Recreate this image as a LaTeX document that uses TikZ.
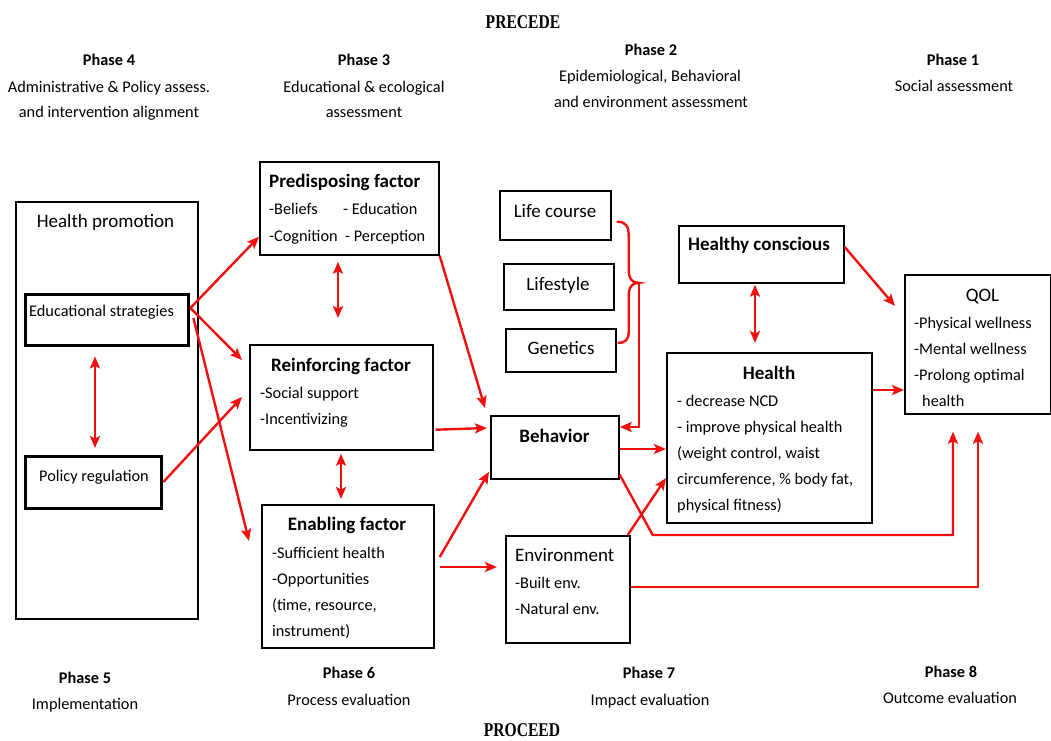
\documentclass[tikz,border=0pt]{standalone}
\usepackage{graphicx}
\usepackage{fontspec}
\setmainfont{Carlito}
\newfontfamily\modelfont{Liberation Serif}
\usetikzlibrary{arrows.meta,calc}
\definecolor{linkred}{RGB}{240,16,16}

\tikzset{
  box/.style={draw, line width=1.7pt, inner sep=0pt, anchor=north west},
  heavybox/.style={box, line width=3.4pt},
  body/.style={inner sep=0pt, anchor=base west, font=\fontsize{16.3}{19}\selectfont},
  boxhead/.style={inner sep=0pt, anchor=base, font=\fontsize{19}{22}\selectfont\bfseries},
  boxheadw/.style={boxhead, anchor=base west},
  boxtitle/.style={inner sep=0pt, anchor=base, font=\fontsize{19}{22}\selectfont},
  boxtitlew/.style={boxtitle, anchor=base west},
  phase/.style={inner sep=0pt, anchor=base, font=\fontsize{16.3}{19}\selectfont\bfseries},
  phasetext/.style={inner sep=0pt, anchor=base, font=\fontsize{16.3}{19}\selectfont},
  modelname/.style={inner sep=0pt, anchor=base, font=\modelfont\bfseries\fontsize{19.5}{22}\selectfont},
  >={Stealth[length=12pt,width=10pt,inset=2.5pt]},
  link/.style={draw=linkred, line width=2.4pt, ->},
  twoway/.style={draw=linkred, line width=2.4pt, <->},
  bracket/.style={draw=linkred, line width=2.4pt},
}

\begin{document}
\begin{tikzpicture}[x=1pt,y=-1pt]
\useasboundingbox (0,0) rectangle (1051,740);

% ---------- PRECEDE header and phases 1-4 ----------
\node[modelname] (precede) at (523,28) {\scalebox{0.8}[1]{PRECEDE}};

\node[phase]     (ph4)  at (109,65)  {Phase 4};
\node[phasetext] (ph4a) at (109,92)  {Administrative \& Policy assess.};
\node[phasetext] (ph4b) at (109,117) {and intervention alignment};

\node[phase]     (ph3)  at (364,65)  {Phase 3};
\node[phasetext] (ph3a) at (364,92)  {Educational \& ecological};
\node[phasetext] (ph3b) at (364,117) {assessment};

\node[phase]     (ph2)  at (651,55)  {Phase 2};
\node[phasetext] (ph2a) at (650,81)  {Epidemiological, Behavioral};
\node[phasetext] (ph2b) at (651,107) {and environment assessment};

\node[phase]     (ph1)  at (953,65)  {Phase 1};
\node[phasetext] (ph1a) at (954,91)  {Social assessment};

% ---------- PROCEED footer and phases 5-8 ----------
\node[phase]     (ph5)  at (85,683)  {Phase 5};
\node[phasetext] (ph5a) at (85,709)  {Implementation};
\node[phase]     (ph6)  at (349,678) {Phase 6};
\node[phasetext] (ph6a) at (349,705) {Process evaluation};
\node[phase]     (ph7)  at (649,678) {Phase 7};
\node[phasetext] (ph7a) at (650,705) {Impact evaluation};
\node[phase]     (ph8)  at (951,677) {Phase 8};
\node[phasetext] (ph8a) at (950,703) {Outcome evaluation};
\node[modelname] (proceed) at (522,736) {\scalebox{0.8}[1]{PROCEED}};

% ---------- health promotion column ----------
\node[box, minimum width=182pt, minimum height=417pt] (hp) at (15,201) {};
\node[boxtitle] (hpt) at (105.5,227) {Health promotion};
\node[heavybox, minimum width=163pt, minimum height=51pt] (edu) at (24,293) {};
\node[body] (edut) at (29,316) {Educational strategies};
\node[heavybox, minimum width=136pt, minimum height=52pt] (pol) at (24,455) {};
\node[body, anchor=base] (polt) at (94,481) {Policy regulation};

% ---------- factor boxes ----------
\node[box, minimum width=179pt, minimum height=93pt] (pre) at (259,161) {};
\node[boxheadw] (pret) at (269,187) {Predisposing factor};
\node[body] (pre1) at (269,214) {-Beliefs};
\node[body] (pre2) at (343,214) {- Education};
\node[body] (pre3) at (269,241) {-Cognition};
\node[body] (pre4) at (345,241) {- Perception};

\node[box, minimum width=183pt, minimum height=105pt] (rei) at (249,344) {};
\node[boxhead] (reit) at (341,371) {Reinforcing factor};
\node[body] (rei1) at (260,398) {-Social support};
\node[body] (rei2) at (260,424) {-Incentivizing};

\node[box, minimum width=172pt, minimum height=143pt] (ena) at (261,504) {};
\node[boxhead] (enat) at (347,530) {Enabling factor};
\foreach \t [count=\i] in {-Sufficient health,-Opportunities,{(time, resource,},instrument)}
  \node[body] (ena\i) at (272,{532+26*\i}) {\t};

% ---------- determinants ----------
\node[box, minimum width=111pt, minimum height=49pt] (life) at (499,190) {};
\node[boxtitle] (lifet) at (555,217) {Life course};
\node[box, minimum width=110pt, minimum height=46pt] (style) at (503,263) {};
\node[boxtitle] (stylet) at (558,290) {Lifestyle};
\node[box, minimum width=110pt, minimum height=43pt] (gen) at (505,328) {};
\node[boxtitle] (gent) at (561,354) {Genetics};

\node[box, minimum width=128pt, minimum height=63pt] (beh) at (490,415) {};
\node[boxhead] (beht) at (554.5,442) {Behavior};

\node[box, minimum width=124pt, minimum height=107pt] (env) at (505,535) {};
\node[boxtitlew] (envt) at (515,561) {Environment};
\node[body] (env1) at (515,588) {-Built env.};
\node[body] (env2) at (515,614) {-Natural env.};

% ---------- outcomes ----------
\node[box, minimum width=165pt, minimum height=57pt] (hc) at (678,225) {};
\node[boxhead] (hct) at (759,250) {Healthy conscious};

\node[box, minimum width=205pt, minimum height=170pt] (hea) at (666,352) {};
\node[boxhead] (heat) at (769,379) {Health};
\foreach \t [count=\i] in {- decrease NCD,- improve physical health,{(weight control, waist},{circumference, \% body fat,},physical fitness)}
  \node[body] (hea\i) at (677,{380+26*\i}) {\t};

\node[box, minimum width=146pt, minimum height=139pt] (qol) at (904,274) {};
\node[boxtitle] (qolt) at (982.5,301) {QOL};
\node[body] (qol1) at (914,328) {-Physical wellness};
\node[body] (qol2) at (914,354) {-Mental wellness};
\node[body] (qol3) at (914,380) {-Prolong optimal};
\node[body] (qol4) at (922,406) {health};

% ---------- connectors: left column ----------
\draw[link] ($(edu.north east)+(0,15)$) -- ($(pre.south west)+(0,-19)$);
\draw[link] ($(edu.north east)+(0,15)$) -- ($(rei.north west)+(-7,16)$);
\draw[link] ($(edu.north east)+(3,25)$) -- ($(ena.north west)+(-12,37)$);
\draw[link] ($(pol.north east)+(0,27)$) -- ($(rei.north west)+(-7,53)$);
\draw[twoway] ($(edu.south west)+(71,9)$) -- ($(pol.north west)+(71,-7)$);

% ---------- connectors: factors ----------
\draw[twoway] ($(pre.south west)+(79,6)$) -- ($(rei.north west)+(89,-26)$);
\draw[twoway] ($(rei.south west)+(92,3)$) -- ($(ena.north west)+(80,-5)$);
\draw[link] (pre.south east) -- ($(beh.north west)+(-5,-7)$);
\draw[link] ($(rei.south east)+(2,-21)$) -- ($(beh.north west)+(-3,13)$);
\draw[link] ($(ena.north east)+(5,53)$) -- ($(beh.south west)+(-1,-8)$);
\draw[link] ($(ena.north east)+(5,63)$) -- ($(env.north west)+(-8,32)$);

% ---------- bracket joining life course, lifestyle and genetics ----------
\coordinate (bt) at ($(style.east)+(24,-4)$);
\draw[bracket] ($(life.south east)+(5,-19)$)
  .. controls ($(life.south east)+(15,-19)$) and ($(life.south east)+(17,-14)$) .. ($(life.south east)+(17,-4)$)
  -- ($(bt)+(-10,-14)$)
  .. controls ($(bt)+(-10,-3)$) and ($(bt)+(-6,0)$) .. (bt)
  .. controls ($(bt)+(-6,0)$) and ($(bt)+(-10,3)$) .. ($(bt)+(-10,14)$)
  -- ($(gen.north east)+(12,4)$)
  .. controls ($(gen.north east)+(12,12)$) and ($(gen.north east)+(8,15)$) .. ($(gen.north east)+(1,15)$);
\draw[link] (bt) |- ($(beh.north east)+(0,12)$);

% ---------- connectors: outcomes ----------
\draw[link] ($(beh.north east)+(0,34)$) -- ($(hea.north west)+(0,97)$);
\draw[link] ($(env.north east)+(-3,0)$) -- ($(hea.north west)+(0,126)$);
\draw[twoway] ($(hc.south west)+(77,1)$) -- ($(hea.north west)+(89,-9)$);
\draw[link] ($(hc.north east)+(0,22)$) -- ($(qol.north west)+(-9,32)$);
\draw[link] ($(hea.north east)+(0,38)$) -- ($(qol.north west)+(0,116)$);
\draw[link] ($(beh.south east)+(0,-5)$) -- ($(env.north east)+(22,0)$) -| ($(qol.south west)+(49,17)$);
\draw[link] ($(env.north east)+(0,52)$) -| ($(qol.south west)+(74,17)$);

\end{tikzpicture}
\end{document}
